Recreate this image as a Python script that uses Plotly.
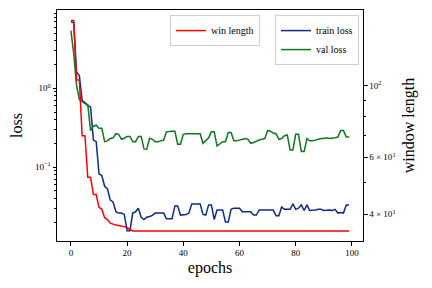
import plotly.graph_objects as go

epochs = list(range(100))

win_length = [159, 159, 104, 104, 70, 70, 52, 52, 46, 46,
              42, 41.5, 39, 38.5, 37.5, 37.2, 37.0, 36.9, 36.8, 36.6,
              36.3, 35.8] + [35.5] * 78

train_loss = [7.0, 6.8, 1.6, 1.45, 0.70, 0.66, 0.60, 0.58, 0.22, 0.21,
              0.082, 0.078, 0.057, 0.053, 0.038, 0.036, 0.027, 0.026, 0.026, 0.025,
              0.0155, 0.0155, 0.026, 0.027, 0.030, 0.023, 0.0215, 0.023, 0.0235, 0.0243,
              0.026, 0.026, 0.026, 0.026, 0.022, 0.022, 0.022, 0.032, 0.032, 0.0245,
              0.0245, 0.025, 0.026, 0.034, 0.034, 0.034, 0.034, 0.025, 0.0245, 0.033,
              0.033, 0.0215, 0.0285, 0.0285, 0.0285, 0.020, 0.020, 0.029, 0.030, 0.030,
              0.030, 0.027, 0.027, 0.027, 0.027, 0.0245, 0.0245, 0.0285, 0.0285, 0.0285,
              0.0285, 0.0285, 0.0285, 0.024, 0.024, 0.031, 0.029, 0.029, 0.029, 0.034,
              0.029, 0.030, 0.033, 0.028, 0.033, 0.028, 0.028, 0.0285, 0.029, 0.029,
              0.028, 0.0285, 0.0285, 0.028, 0.029, 0.026, 0.0265, 0.026, 0.033, 0.033]

val_loss = [5.4, 2.75, 1.1, 0.72, 0.68, 0.64, 0.62, 0.29, 0.33, 0.34,
            0.31, 0.31, 0.21, 0.215, 0.23, 0.235, 0.265, 0.26, 0.225, 0.232,
            0.245, 0.245, 0.21, 0.21, 0.245, 0.245, 0.17, 0.168, 0.232, 0.225,
            0.21, 0.21, 0.215, 0.22, 0.28, 0.285, 0.285, 0.285, 0.195, 0.195,
            0.26, 0.265, 0.265, 0.265, 0.265, 0.265, 0.265, 0.2, 0.22, 0.235,
            0.28, 0.28, 0.185, 0.2, 0.21, 0.21, 0.275, 0.275, 0.215, 0.215,
            0.22, 0.225, 0.23, 0.225, 0.2, 0.205, 0.215, 0.22, 0.225, 0.23,
            0.29, 0.285, 0.27, 0.265, 0.225, 0.23, 0.25, 0.255, 0.165, 0.165,
            0.26, 0.26, 0.157, 0.157, 0.23, 0.215, 0.215, 0.22, 0.225, 0.23,
            0.23, 0.235, 0.23, 0.23, 0.235, 0.24, 0.29, 0.29, 0.24, 0.24]

x_ticks = [0, 20, 40, 60, 80, 100]
loss_ticks = [1.0, 0.1]
loss_tick_text = ["10<sup>0</sup>", "10<sup>−1</sup>"]
loss_minor = [m * 10.0 ** e for e in (-2, -1, 0) for m in range(2, 10)]
win_ticks = [40, 60, 100]
win_tick_text = ["4 × 10<sup>1</sup>", "6 × 10<sup>1</sup>", "10<sup>2</sup>"]
win_minor = [40, 50, 60, 70, 80, 90, 100]

FONT = "Liberation Serif"
TICKFONT = dict(family=FONT, size=9, color="black")

fig = go.Figure()
fig.add_trace(go.Scatter(x=epochs, y=train_loss, mode="lines", name="train loss",
                         line=dict(color="#0d2a8c", width=1.5), legend="legend2"))
fig.add_trace(go.Scatter(x=epochs, y=val_loss, mode="lines", name="val loss",
                         line=dict(color="#0a7a1e", width=1.5), legend="legend2"))
fig.add_trace(go.Scatter(x=epochs, y=win_length, mode="lines", name="win length",
                         line=dict(color="#ff0000", width=1.5), yaxis="y2", legend="legend"))

fig.update_layout(
    width=424, height=280,
    margin=dict(l=49, r=69, t=2, b=47),
    paper_bgcolor="white", plot_bgcolor="white",
    font=dict(family=FONT, color="black", size=9),
    xaxis=dict(range=[-4.95, 103.95], tickvals=x_ticks, ticks="outside", ticklen=3.5,
               tickcolor="black", showline=True, linecolor="black", linewidth=1, mirror=True,
               showgrid=False, zeroline=False, tickfont=TICKFONT,
               title=dict(text="epochs", font=dict(family=FONT, size=16, color="black"), standoff=4)),
    yaxis=dict(type="log", range=[-1.94, 0.995], tickvals=loss_ticks, ticktext=loss_tick_text,
               ticks="outside", ticklen=3.5, tickcolor="black",
               showline=True, linecolor="black", linewidth=1,
               showgrid=False, zeroline=False, tickfont=TICKFONT,
               minor=dict(tickvals=loss_minor, ticks="outside", ticklen=2, tickcolor="black",
                          showgrid=False),
               title=dict(text="loss", font=dict(family=FONT, size=16, color="black"), standoff=10)),
    yaxis2=dict(type="log", range=[1.519, 2.234], overlaying="y", side="right",
                tickvals=win_ticks, ticktext=win_tick_text, ticks="outside", ticklen=3.5,
                tickcolor="black",
                showline=True, linecolor="black", linewidth=1, showgrid=False, zeroline=False,
                tickfont=TICKFONT,
                minor=dict(tickvals=win_minor, ticks="outside", ticklen=2, tickcolor="black",
                           showgrid=False),
                title=dict(text="window length", font=dict(family=FONT, size=16, color="black"),
                           standoff=8)),
    legend=dict(x=0.369, y=0.978, xanchor="left", yanchor="top",
                bgcolor="rgba(255,255,255,0.8)", bordercolor="#d0d0d0", borderwidth=1,
                font=dict(family=FONT, size=10, color="black"), itemwidth=30, tracegroupgap=0),
    legend2=dict(x=0.987, y=0.978, xanchor="right", yanchor="top",
                 bgcolor="rgba(255,255,255,0.8)", bordercolor="#d0d0d0", borderwidth=1,
                 font=dict(family=FONT, size=10, color="black"), itemwidth=30, tracegroupgap=0),
    showlegend=True,
)

fig.write_html("out.html")
